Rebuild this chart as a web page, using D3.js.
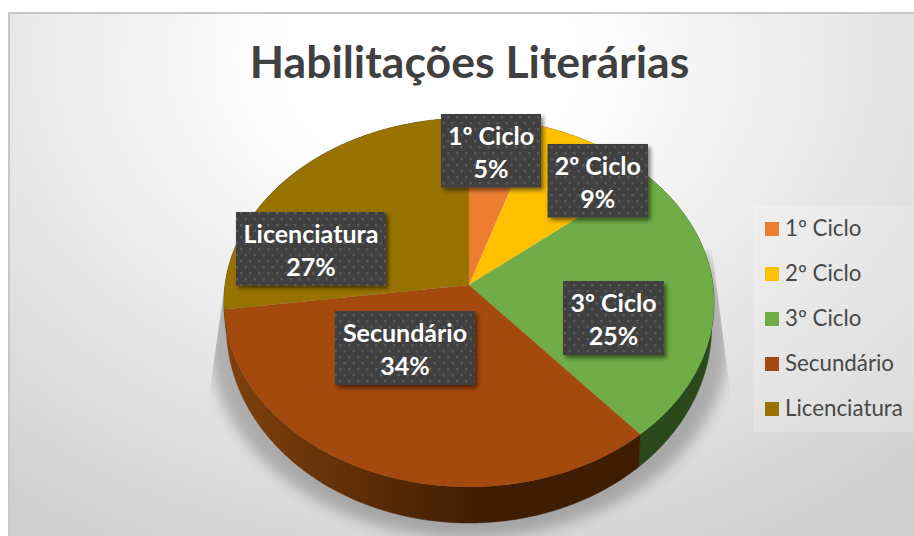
<!DOCTYPE html>
<html lang="pt">
<head>
<meta charset="utf-8">
<style>
html,body{margin:0;padding:0;background:#fff;overflow:hidden}
svg{display:block}
text{font-family:Lato,"Open Sans",sans-serif}
</style>
<script src="https://cdnjs.cloudflare.com/ajax/libs/d3/7.8.5/d3.min.js"></script>
</head>
<body>
<script>
const chartTitle = "Habilitações Literárias";
const categories = ["1º Ciclo", "2º Ciclo", "3º Ciclo", "Secundário", "Licenciatura"];
const values = [5, 9, 24.7, 34.2, 27.1];
const topColors = ["#ed7d31", "#ffc000", "#70ad47", "#a44a0e", "#997300"];

// layout (separate from data)
const W = 914, H = 536;
const labelBoxes = [[441,114,100,73.5],[547.5,144,100.5,73.5],[563,281,101,74],[335,311,140,74],[236,212,150,73.5]];
const persp = 0.0949;
const x0 = d3.scaleLinear().domain([-1,1]).range([469-244, 469+244]);
const yTop = d3.scaleLinear().domain([-1,1]).range([285-182.8, 285+182.8]);
const xBot = d3.scaleLinear().domain([-1,1]).range([469-241.5, 469+241.5]);
const yBot = d3.scaleLinear().domain([-1,1]).range([308-194.6, 308+194.6]);
const xSh = d3.scaleLinear().domain([-1,1]).range([469-259, 469+259]);
const ySh = d3.scaleLinear().domain([-1,1]).range([318-199, 318+199]);

function proj(a, xs, ys){
  const u = Math.sin(a), v = -Math.cos(a), d = 1 - persp*v;
  return [xs(u/d), ys(v/d)];
}
function rim(a0, a1, xs, ys){
  const n = Math.max(2, Math.ceil((a1-a0)/0.01));
  return d3.range(n+1).map(i => proj(a0+(a1-a0)*i/n, xs, ys));
}
const line = d3.line();
const arcs = d3.pie().sort(null).value(d => d)(values);
const total = d3.sum(values);

const svg = d3.select("body").append("svg").attr("width",W).attr("height",H);
const defs = svg.append("defs");

const bg = defs.append("radialGradient").attr("id","bg").attr("gradientUnits","userSpaceOnUse")
  .attr("cx",0).attr("cy",0).attr("r",1)
  .attr("gradientTransform","translate(430,60) scale(720,560)");
bg.append("stop").attr("offset",0).attr("stop-color","#ffffff");
bg.append("stop").attr("offset",0.2).attr("stop-color","#ffffff");
bg.append("stop").attr("offset",1).attr("stop-color","#cfcfcf");

defs.append("filter").attr("id","blur").attr("x","-20%").attr("y","-20%").attr("width","140%").attr("height","140%")
  .append("feGaussianBlur").attr("stdDeviation",7);
const ds = defs.append("filter").attr("id","ds").attr("x","-20%").attr("y","-20%").attr("width","140%").attr("height","150%");
ds.append("feDropShadow").attr("dx",2.5).attr("dy",3).attr("stdDeviation",2.2)
  .attr("flood-color","#000").attr("flood-opacity",0.5);

const pat = defs.append("pattern").attr("id","dots").attr("patternUnits","userSpaceOnUse")
  .attr("width",9).attr("height",12).attr("x",0).attr("y",0);
pat.append("rect").attr("width",9).attr("height",12).attr("fill","#404040");
pat.append("rect").attr("x",1.5).attr("y",2).attr("width",2.4).attr("height",2.4).attr("fill","#5a5a5a");
pat.append("rect").attr("x",6).attr("y",8).attr("width",2.4).attr("height",2.4).attr("fill","#5a5a5a");

const wallGrad = defs.append("linearGradient").attr("id","wall3").attr("gradientUnits","userSpaceOnUse")
  .attr("x1",228).attr("x2",480).attr("y1",0).attr("y2",0);
wallGrad.append("stop").attr("offset",0).attr("stop-color","#80400c");
wallGrad.append("stop").attr("offset",1).attr("stop-color","#3f1d02");

defs.append("clipPath").attr("id","shClip").append("polygon")
  .attr("points","224,290 712,250 733,415 800,536 120,536 207,410");

// background and frame
svg.append("rect").attr("x",9).attr("y",13).attr("width",W).attr("height",H).attr("fill","url(#bg)");
svg.append("path").attr("d",`M9,${H}V13H${W}`).attr("fill","none").attr("stroke","#c8c8c8").attr("stroke-width",2);

// title
svg.append("text").attr("x",469.5).attr("y",78).attr("text-anchor","middle")
  .attr("font-size",44.6).attr("font-weight",700).attr("fill","#404040").text(chartTitle);

// shadow
svg.append("g").attr("clip-path","url(#shClip)")
  .append("path").attr("d", line(rim(0,2*Math.PI,xSh,ySh))+"Z")
  .attr("fill","#000").attr("opacity",0.24).attr("filter","url(#blur)");

// side wall
const wallFill = ["#6e3a16","#7a5c00","#2b4a1b","url(#wall3)","#4d3a00"];
svg.append("g").selectAll("path").data(arcs).join("path")
  .attr("d", d => line(rim(d.startAngle,d.endAngle,x0,yTop).concat(rim(d.startAngle,d.endAngle,xBot,yBot).reverse()))+"Z")
  .attr("fill",(d,i)=>wallFill[i]).attr("stroke",(d,i)=>wallFill[i]).attr("stroke-width",0.5);

// top face
svg.append("g").selectAll("path").data(arcs).join("path")
  .attr("d", d => line([[x0(0),yTop(0)]].concat(rim(d.startAngle,d.endAngle,x0,yTop)))+"Z")
  .attr("fill",(d,i)=>topColors[i]);

// data labels
const lab = svg.append("g").selectAll("g").data(arcs).join("g");
lab.append("rect")
  .attr("x",(d,i)=>labelBoxes[i][0]).attr("y",(d,i)=>labelBoxes[i][1])
  .attr("width",(d,i)=>labelBoxes[i][2]).attr("height",(d,i)=>labelBoxes[i][3])
  .attr("fill","url(#dots)").attr("filter","url(#ds)");
lab.append("text").attr("text-anchor","middle").attr("fill","#fff").attr("font-weight",700).attr("font-size",25)
  .attr("x",(d,i)=>labelBoxes[i][0]+labelBoxes[i][2]/2).attr("y",(d,i)=>labelBoxes[i][1]+31)
  .text((d,i)=>categories[i]);
lab.append("text").attr("text-anchor","middle").attr("fill","#fff").attr("font-weight",700).attr("font-size",25)
  .attr("x",(d,i)=>labelBoxes[i][0]+labelBoxes[i][2]/2).attr("y",(d,i)=>labelBoxes[i][1]+64)
  .text(d=>Math.round(d.value/total*100)+"%");

// legend
svg.append("rect").attr("x",753).attr("y",206).attr("width",161).attr("height",226).attr("fill","#fff").attr("opacity",0.2);
const ly = d3.scalePoint().domain(categories).range([229,409]);
const leg = svg.append("g").selectAll("g").data(categories).join("g");
leg.append("rect").attr("x",765).attr("y",d=>ly(d)-7).attr("width",14).attr("height",14).attr("fill",(d,i)=>topColors[i]);
leg.append("text").attr("x",785).attr("y",d=>ly(d)+6.5).attr("font-size",22.3).attr("fill","#484848").text(d=>d);
</script>
</body>
</html>
